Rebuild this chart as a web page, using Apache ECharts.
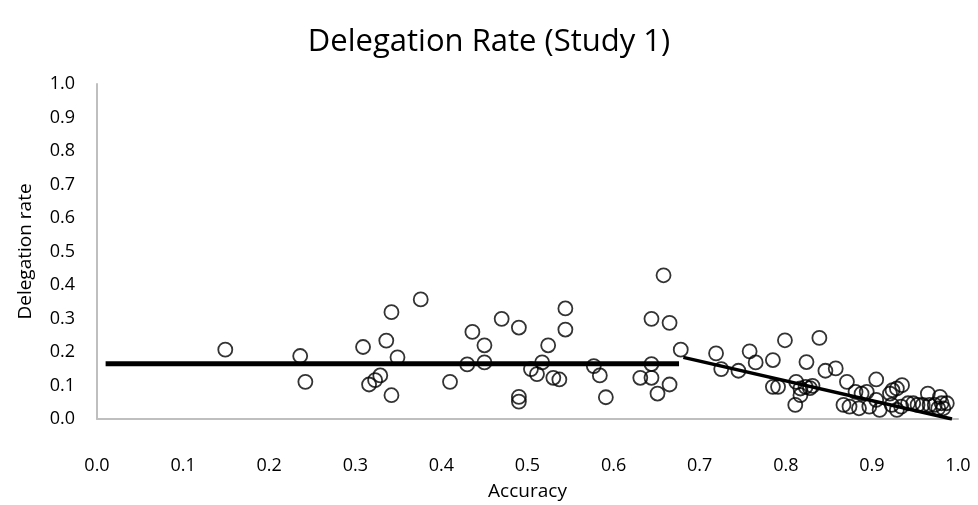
<!DOCTYPE html>
<html>
<head>
<meta charset="utf-8">
<script src="https://cdn.jsdelivr.net/npm/echarts@6/dist/echarts.min.js"></script>
<style>
  html, body { margin: 0; padding: 0; background: #fff; }
  #chart { width: 978px; height: 505px; }
</style>
</head>
<body>
<div id="chart"></div>
<script>
// participant points
const accuracy = [
  0.149, 0.236, 0.242, 0.309, 0.316, 0.323, 0.329, 0.336, 0.342, 0.342,
  0.349, 0.376, 0.410, 0.430, 0.436, 0.450, 0.450, 0.470, 0.490, 0.490,
  0.490, 0.504, 0.511, 0.517, 0.524, 0.530, 0.537, 0.544, 0.544, 0.577,
  0.584, 0.591, 0.631, 0.644, 0.644, 0.644, 0.651, 0.658, 0.665, 0.665,
  0.678,
  0.719, 0.725, 0.745, 0.758, 0.765, 0.785, 0.799, 0.785, 0.791, 0.812,
  0.817, 0.823, 0.828, 0.831, 0.817, 0.811, 0.824, 0.839, 0.846, 0.858,
  0.871, 0.905, 0.881, 0.888, 0.894, 0.867, 0.874, 0.885, 0.897, 0.905,
  0.909, 0.921, 0.924, 0.929, 0.935, 0.923, 0.929, 0.934, 0.942, 0.948,
  0.953, 0.959, 0.965, 0.967, 0.973, 0.979, 0.981, 0.983, 0.987, 0.977
];
const delegationRate = [
  0.207, 0.188, 0.111, 0.215, 0.103, 0.116, 0.130, 0.234, 0.319, 0.071,
  0.184, 0.357, 0.111, 0.163, 0.260, 0.220, 0.169, 0.299, 0.273, 0.066,
  0.052, 0.149, 0.134, 0.169, 0.220, 0.123, 0.118, 0.330, 0.267, 0.158,
  0.130, 0.065, 0.123, 0.299, 0.164, 0.123, 0.076, 0.429, 0.287, 0.103,
  0.207,
  0.196, 0.149, 0.144, 0.202, 0.169, 0.176, 0.235, 0.096, 0.096, 0.111,
  0.091, 0.096, 0.092, 0.099, 0.071, 0.042, 0.170, 0.242, 0.144, 0.151,
  0.111, 0.118, 0.081, 0.076, 0.081, 0.042, 0.037, 0.032, 0.037, 0.057,
  0.027, 0.076, 0.086, 0.091, 0.101, 0.042, 0.027, 0.037, 0.047, 0.047,
  0.042, 0.042, 0.076, 0.042, 0.042, 0.066, 0.047, 0.032, 0.047, 0.032
];

// piecewise fit lines: [x, y] end points
const fitLow = [[0.010, 0.165], [0.676, 0.165]];
const fitHigh = [[0.681, 0.184], [0.993, 0.0]];

const xTicks = ['0.0', '0.1', '0.2', '0.3', '0.4', '0.5', '0.6', '0.7', '0.8', '0.9', '1.0'];

const font = '"Open Sans", "Noto Sans", sans-serif';
const points = accuracy.map((a, i) => [a, delegationRate[i]]);

const chart = echarts.init(document.getElementById('chart'));
chart.setOption({
  animation: false,
  backgroundColor: '#fff',
  title: {
    text: 'Delegation Rate (Study 1)',
    left: 'center',
    top: 22,
    textStyle: { fontFamily: font, fontSize: 31, fontWeight: 'normal', color: '#000' }
  },
  grid: { left: 97, right: 20, top: 84, bottom: 86, outerBoundsMode: 'none' },
  xAxis: {
    type: 'value',
    min: 0, max: 1, interval: 0.1,
    name: 'Accuracy',
    nameLocation: 'middle',
    nameGap: 63,
    nameTextStyle: { fontFamily: font, fontSize: 19, color: '#000' },
    axisLine: { lineStyle: { color: '#bfbfbf', width: 2 } },
    axisTick: { show: false },
    splitLine: { show: false },
    axisLabel: {
      margin: 38,
      fontFamily: font, fontSize: 18, color: '#000',
      formatter: v => xTicks[Math.round(v * 10)]
    }
  },
  yAxis: {
    type: 'value',
    min: 0, max: 1, interval: 0.1,
    name: 'Delegation rate',
    nameLocation: 'middle',
    nameGap: 62,
    nameTextStyle: { fontFamily: font, fontSize: 19, color: '#000' },
    axisLine: { show: true, lineStyle: { color: '#bfbfbf', width: 2 } },
    axisTick: { show: false },
    splitLine: { show: false },
    axisLabel: {
      margin: 22,
      fontFamily: font, fontSize: 18, color: '#000',
      formatter: v => v.toFixed(1)
    }
  },
  series: [
    {
      type: 'scatter',
      data: points,
      symbol: 'circle',
      symbolSize: 14,
      itemStyle: { color: 'rgba(0,0,0,0)', borderColor: '#000', borderWidth: 1.8 },
      z: 2
    },
    {
      type: 'line',
      data: fitLow,
      symbol: 'none',
      lineStyle: { color: '#000', width: 5 },
      z: 3
    },
    {
      type: 'line',
      data: fitHigh,
      symbol: 'none',
      lineStyle: { color: '#000', width: 3.5 },
      z: 3
    }
  ]
});
</script>
</body>
</html>
